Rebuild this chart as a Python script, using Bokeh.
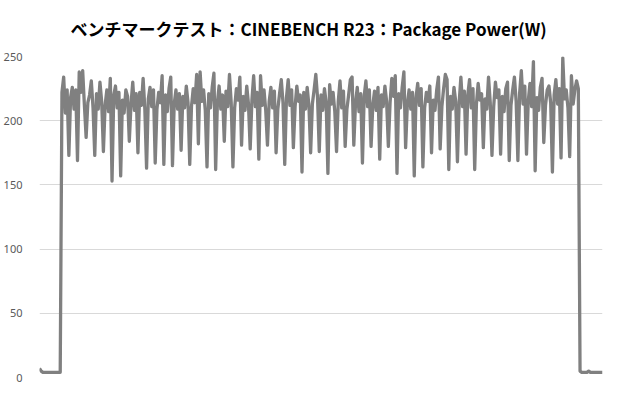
from bokeh.plotting import figure
from bokeh.models import FixedTicker, Range1d
from bokeh.embed import file_html
from bokeh.resources import INLINE

title_text = "ベンチマークテスト：CINEBENCH R23：Package Power(W)"
y_ticks = [0, 50, 100, 150, 200, 250]

# Package power (W), one sample per step
idle_start = [7, 5, 4, 4, 4, 4, 4, 4, 4, 4, 4, 4, 4]
ramp_up = [222, 234, 206, 224]
load = [
    173, 218, 226, 209, 224,
    169, 238, 222, 239, 212,
    187, 214, 220, 231, 210,
    173, 221, 209, 230, 215,
    176, 212, 224, 207, 233,
    153, 220, 227, 210, 222,
    157, 216, 206, 224, 219,
    184, 213, 230, 208, 221,
    175, 222, 212, 233, 209,
    163, 217, 226, 211, 224,
    167, 209, 222, 214, 235,
    166, 220, 207, 225, 234,
    165, 213, 224, 209, 221,
    177, 219, 210, 227, 214,
    166, 211, 225, 214, 236,
    182, 238, 215, 224, 208,
    164, 221, 210, 226, 237,
    162, 214, 227, 209, 220,
    184, 223, 211, 236, 214,
    164, 210, 225, 216, 234,
    181, 219, 208, 227, 213,
    178, 216, 235, 211, 222,
    170, 235, 212, 224, 208,
    181, 215, 226, 210, 223,
    175, 209, 221, 232, 214,
    166, 218, 232, 212, 224,
    179, 211, 227, 215, 220,
    160, 222, 209, 226, 212,
    175, 213, 224, 236, 218,
    176, 220, 208, 225, 214,
    159, 228, 213, 222, 207,
    176, 215, 231, 210, 223,
    180, 209, 220, 232, 234,
    181, 214, 226, 207, 221,
    167, 219, 231, 211, 224,
    180, 212, 223, 208, 226,
    170, 220, 211, 227, 215,
    180, 214, 233, 219, 235,
    159, 221, 210, 226, 238,
    179, 213, 224, 209, 222,
    157, 218, 229, 212, 225,
    164, 210, 222, 215, 227,
    175, 216, 208, 224, 234,
    178, 211, 225, 236, 232,
    162, 219, 209, 226, 215,
    168, 214, 234, 211, 223,
    174, 220, 232, 210, 225,
    162, 213, 229, 216, 221,
    179, 217, 209, 234, 214,
    173, 211, 230, 218, 224,
    174, 219, 207, 225, 230,
    169, 212, 224, 234, 215,
    169, 221, 239, 213, 227,
    174, 215, 229, 211, 246,
    161, 218, 208, 226, 233,
    183, 212, 224, 227, 214,
    160, 220, 232, 213, 225,
    171, 249, 217, 224, 210,
    172, 235, 213, 224, 231,
    225,
]
idle_end = [5, 4, 4, 4, 4, 5, 4, 4, 4, 4, 4, 4, 4, 4]

power = idle_start + ramp_up + load + idle_end
t = list(range(len(power)))

p = figure(width=604, height=384, output_backend="svg", toolbar_location=None,
           x_range=Range1d(0, len(power) - 1), y_range=Range1d(0, 250),
           min_border_left=37, min_border_right=2, min_border_top=56, min_border_bottom=7)
p.title.text = title_text
p.title.align = "left"
p.title.offset = 31
p.title.standoff = 27
p.title.vertical_align = "top"
p.title.text_font = "Noto Sans CJK JP"
p.title.text_font_style = "bold"
p.title.text_font_size = "17px"
p.title.text_color = "#000000"

p.line(t, power, line_color="#808080", line_width=3.3, line_join="round")

p.outline_line_color = None
p.xaxis.visible = False
p.xgrid.visible = False
p.ygrid.grid_line_color = "#d9d9d9"
p.ygrid.grid_line_width = 1
p.yaxis.ticker = FixedTicker(ticks=y_ticks)
p.yaxis.axis_line_color = None
p.yaxis.major_tick_line_color = None
p.yaxis.minor_tick_line_color = None
p.yaxis.major_label_standoff = 11
p.yaxis.major_label_text_font = "Noto Sans"
p.yaxis.major_label_text_font_size = "11px"
p.yaxis.major_label_text_color = "#595959"

open("out.html", "w").write(file_html(p, INLINE))
